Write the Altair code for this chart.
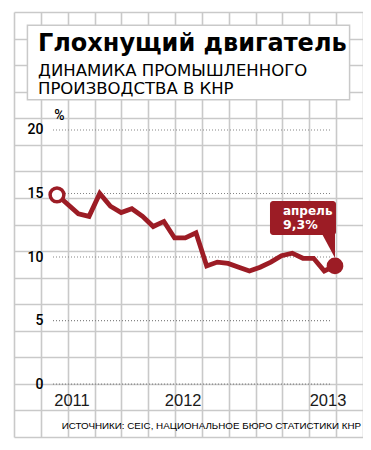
import altair as alt
import pandas as pd

# ---- data ----
months = ["2011-02", "2011-04", "2011-05", "2011-06", "2011-07", "2011-08", "2011-09",
          "2011-10", "2011-11", "2011-12", "2012-01", "2012-02", "2012-03", "2012-04",
          "2012-05", "2012-06", "2012-07", "2012-08", "2012-09", "2012-10", "2012-11",
          "2012-12", "2013-01", "2013-02", "2013-03", "2013-04"]
growth = [14.9, 13.4, 13.2, 15.0, 14.0, 13.5, 13.8, 13.2, 12.4, 12.8,
          11.5, 11.5, 11.9, 9.3, 9.6, 9.5, 9.2, 8.9, 9.2, 9.6, 10.1, 10.3,
          9.9, 9.9, 8.9, 9.3]
y_ticks = [0, 5, 10, 15, 20]
year_labels = ["2011", "2012", "2013"]
year_label_month = [1.4, 11.8, 25.35]   # months after Feb 2011 where the year text sits
last_label_month = "апрель"
title_text = "Глохнущий двигатель"
subtitle_lines = ["ДИНАМИКА ПРОМЫШЛЕННОГО", "ПРОИЗВОДСТВА В КНР"]
source_text = "ИСТОЧНИКИ: CEIC, НАЦИОНАЛЬНОЕ БЮРО СТАТИСТИКИ КНР"

# ---- tables ----
def month_index(m):
    y, mo = m.split("-")
    return (int(y) - 2011) * 12 + int(mo) - 2

df = pd.DataFrame({"k": [month_index(m) for m in months], "g": growth})
df_first = df.iloc[[0]]
df_last = df.iloc[[-1]].assign(lbl=last_label_month)

RED = "#9c1c25"
GRID = "#c9c9c9"
W, H = 349, 425

xs = alt.Scale(domain=[-4.02, 28.62], nice=False, zero=False)
ys = alt.Scale(domain=[-4.17, 29.29], nice=False, zero=False)

yax = alt.Axis(values=y_ticks, orient="left", domain=False, ticks=False, tickSize=0,
               grid=False, labelPadding=-29, labelFontSize=14, labelColor="#000000",
               labelFont="Roboto", labelFontWeight=500, labelBaseline="middle",
               labelAlign="right",
               title="%", titleAngle=0, titleX=45, titleY=107, titleAlign="center",
               titleBaseline="alphabetic", titleFontSize=14, titleFontWeight=500,
               titleFont="Roboto", titleColor="#000000", zindex=1)


def X():
    return alt.X("k:Q", scale=xs, axis=None)


def Y(field):
    return alt.Y(field, scale=ys, axis=yax)


# ---- graph paper + title box ----
box = pd.DataFrame({"gx": [0.5], "gx2": [12.5], "gy": [0.5], "gy2": [3.3]})
paper = alt.Chart(box).mark_rect(fill="white", stroke=GRID, strokeWidth=1.5).encode(
    x=alt.X("gx:Q", scale=alt.Scale(domain=[0, 13], nice=False, zero=False),
            axis=alt.Axis(values=list(range(14)), grid=True, gridColor=GRID, gridWidth=1.6,
                          domain=False, ticks=False, labels=False, orient="top", zindex=0),
            title=None),
    x2="gx2:Q",
    y=alt.Y("gy:Q", scale=alt.Scale(domain=[0, 16], reverse=True, nice=False, zero=False),
            axis=alt.Axis(values=list(range(17)), grid=True, gridColor=GRID, gridWidth=1.6,
                          domain=False, ticks=False, labels=False, orient="right", zindex=0),
            title=None),
    y2="gy2:Q",
)

# ---- data layers ----
rules = alt.Chart(pd.DataFrame({"v": y_ticks})).mark_rule(
    color="#858585", strokeDash=[1, 2], strokeWidth=1.2
).encode(x=alt.value(39), x2=alt.value(317), y=Y("v:Q"))

line = alt.Chart(df).mark_line(color=RED, strokeWidth=4.8, strokeJoin="miter").encode(
    x=X(), y=Y("g:Q"))

start = alt.Chart(df_first).mark_point(
    shape="circle", filled=True, fill="white", stroke=RED, strokeWidth=3.5, size=190, opacity=1
).encode(x=X(), y=Y("g:Q"))

end = alt.Chart(df_last).mark_circle(color=RED, size=280, opacity=1).encode(x=X(), y=Y("g:Q"))

callout = alt.Chart(df_last).mark_rect(
    color=RED, cornerRadius=3, xOffset=-65, x2Offset=1, yOffset=-65, y2Offset=-31
).encode(x=X(), x2="k:Q", y=Y("g:Q"), y2="g:Q")

pointer = alt.Chart(df_last).mark_point(
    shape="M-0.5,-0.93L0.5,-0.93L0.5,0.93Z", filled=True, color=RED, opacity=1,
    size=784, xOffset=-7, yOffset=-21, strokeWidth=0
).encode(x=X(), y=Y("g:Q"))

callout_month = alt.Chart(df_last).mark_text(
    align="left", baseline="alphabetic", dx=-52, dy=-51, fontSize=12, fontWeight="bold",
    font="DejaVu Sans", color="white"
).encode(x=X(), y=Y("g:Q"), text="lbl:N")

callout_value = alt.Chart(df_last).transform_calculate(
    txt="replace(format(datum.g, '.1f'), '.', ',') + '%'"
).mark_text(
    align="left", baseline="alphabetic", dx=-52, dy=-37, fontSize=12.5, fontWeight="bold",
    font="DejaVu Sans", color="white"
).encode(x=X(), y=Y("g:Q"), text="txt:N")

years = alt.Chart(pd.DataFrame({"k": year_label_month, "t": year_labels})).mark_text(
    fontSize=16.5, font="Liberation Sans", color="#1a1a1a", baseline="alphabetic", align="center"
).encode(x=X(), y=alt.value(393.5), text="t:N")

title = alt.Chart(pd.DataFrame({"t": [title_text]})).mark_text(
    align="left", baseline="alphabetic", fontSize=24, fontWeight="bold", font="DejaVu Sans",
    color="black"
).encode(x=alt.value(24), y=alt.value(39), text="t:N")

sub = alt.Chart(pd.DataFrame({"t": [subtitle_lines]})).mark_text(
    align="left", baseline="alphabetic", fontSize=16.5, font="DejaVu Sans",
    color="black", lineHeight=17.5
).encode(x=alt.value(24), y=alt.value(64), text="t")

source = alt.Chart(pd.DataFrame({"t": [source_text]})).mark_text(
    align="right", baseline="alphabetic", fontSize=9.8, font="Liberation Sans", color="black"
).encode(x=alt.value(347), y=alt.value(416.5), text="t:N")

data_layers = alt.layer(rules, line, start, callout, pointer, end, callout_month,
                        callout_value, years, title, sub, source)

chart = alt.layer(paper, data_layers).resolve_scale(
    x="independent", y="independent"
).properties(
    width=W, height=H, autosize="none",
    padding={"left": 6, "top": 4, "right": 0, "bottom": 2},
    background="white",
).configure_view(strokeWidth=0)

chart.save("out.html", embed_options={"renderer": "svg", "actions": False})
